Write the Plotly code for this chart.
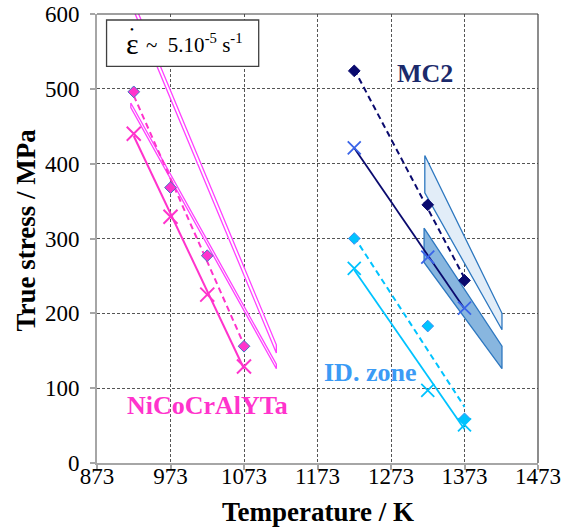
import plotly.graph_objects as go

# ---------------- data ----------------
temp_ni = [923, 973, 1023, 1073]
ni_diamond = [496, 368, 277, 156]
ni_cross = [440, 329, 225, 129]
ni_fit_T = [923, 1073]
ni_fit_diamond = [491, 158]
ni_fit_cross = [437, 126]
ni_bandA_T = [919, 1117]
ni_bandA_upper = [481, 132]
ni_bandA_lower = [475, 126]
ni_bandB_T = [925, 1117]
ni_bandB_upper = [611, 158]
ni_bandB_lower = [600, 147]

temp_hi = [1223, 1323, 1373]
mc2_diamond = [524, 345, 244]
mc2_cross = [421, 275, 207]
id_diamond = [300, 183, 59]
id_cross = [260, 97, 51]
hi_fit_T = [1223, 1373]
mc2_fit_diamond = [526, 247]
mc2_fit_cross = [421, 206]
id_fit_diamond = [302, 75]
id_fit_cross = [258, 45]

light_band_T = [1319, 1424]
light_band_upper = [411, 200]
light_band_lower = [361, 178]
dark_band_T = [1318, 1424]
dark_band_upper = [314, 156]
dark_band_lower = [268, 126]

x_ticks = [873, 973, 1073, 1173, 1273, 1373, 1473]
y_ticks = [0, 100, 200, 300, 400, 500, 600]

FONT = "Liberation Serif, Times New Roman, serif"
MAG = "#FF33CC"
MAG_BAND = "#FF40FF"
NAVY = "#0A0A6E"
CYAN = "#00C3FF"


def band(T, up, lo):
    xs = [T[0], T[1], T[1], T[0], T[0]]
    ys = [up[0], up[1], lo[1], lo[0], up[0]]
    return xs, ys


fig = go.Figure()

# MC2 bands
for T, up, lo, fc in [(light_band_T, light_band_upper, light_band_lower, "#E2EDF8"),
                      (dark_band_T, dark_band_upper, dark_band_lower, "#88B6DF")]:
    xs, ys = band(T, up, lo)
    fig.add_trace(go.Scatter(x=xs, y=ys, mode="lines", fill="toself", fillcolor=fc,
                             line=dict(color="#2E78C0", width=1.3), hoverinfo="skip"))

# NiCoCrAlYTa bands
for T, up, lo in [(ni_bandA_T, ni_bandA_upper, ni_bandA_lower),
                  (ni_bandB_T, ni_bandB_upper, ni_bandB_lower)]:
    xs, ys = band(T, up, lo)
    fig.add_trace(go.Scatter(x=xs, y=ys, mode="lines", fill="toself", fillcolor="white",
                             line=dict(color=MAG_BAND, width=1.3), hoverinfo="skip"))

# fit lines
fig.add_trace(go.Scatter(x=ni_fit_T, y=ni_fit_diamond, mode="lines",
                         line=dict(color=MAG, width=2, dash="6px,4px")))
fig.add_trace(go.Scatter(x=ni_fit_T, y=ni_fit_cross, mode="lines",
                         line=dict(color=MAG, width=2)))
fig.add_trace(go.Scatter(x=hi_fit_T, y=mc2_fit_diamond, mode="lines",
                         line=dict(color=NAVY, width=2, dash="6px,4px")))
fig.add_trace(go.Scatter(x=hi_fit_T, y=mc2_fit_cross, mode="lines",
                         line=dict(color=NAVY, width=1.8)))
fig.add_trace(go.Scatter(x=hi_fit_T, y=id_fit_diamond, mode="lines",
                         line=dict(color=CYAN, width=2, dash="6px,4px")))
fig.add_trace(go.Scatter(x=hi_fit_T, y=id_fit_cross, mode="lines",
                         line=dict(color=CYAN, width=1.8)))

# markers
fig.add_trace(go.Scatter(x=temp_ni, y=ni_diamond, mode="markers",
                         marker=dict(symbol="diamond", size=9, color=MAG,
                                     line=dict(color="#4472C4", width=1))))
fig.add_trace(go.Scatter(x=temp_ni, y=ni_cross, mode="markers",
                         marker=dict(symbol="x-thin", size=14,
                                     line=dict(color=MAG, width=2))))
fig.add_trace(go.Scatter(x=temp_hi, y=mc2_diamond, mode="markers",
                         marker=dict(symbol="diamond", size=9, color=NAVY,
                                     line=dict(color=NAVY, width=1))))
fig.add_trace(go.Scatter(x=temp_hi, y=mc2_cross, mode="markers",
                         marker=dict(symbol="x-thin", size=13,
                                     line=dict(color="#3A64E8", width=1.8))))
fig.add_trace(go.Scatter(x=temp_hi, y=id_diamond, mode="markers",
                         marker=dict(symbol="diamond", size=9, color=CYAN,
                                     line=dict(color="#3D8EF0", width=1))))
fig.add_trace(go.Scatter(x=temp_hi, y=id_cross, mode="markers",
                         marker=dict(symbol="x-thin", size=13,
                                     line=dict(color=CYAN, width=1.8))))

# labels
fig.add_annotation(x=1319, y=520, text="<b>MC2</b>", showarrow=False,
                   font=dict(family=FONT, size=26, color="#1B2A6B"))
fig.add_annotation(x=1244, y=121, text="<b>ID. zone</b>", showarrow=False,
                   font=dict(family=FONT, size=26, color="#3B9BF5"))
fig.add_annotation(x=1023, y=77, text="<b>NiCoCrAlYTa</b>", showarrow=False,
                   font=dict(family=FONT, size=26, color=MAG))

# strain-rate box
fig.add_shape(type="rect", xref="x", yref="y", x0=886, x1=1093, y0=530, y1=592,
              line=dict(color="#404040", width=1.3), fillcolor="white", layer="above")
fig.add_annotation(x=1005, y=560, xref="x", yref="y", showarrow=False,
                   text="~  5.10<sup>-5</sup> s<sup>-1</sup>",
                   font=dict(family=FONT, size=21, color="black"))
fig.add_annotation(x=921, y=560, xref="x", yref="y", showarrow=False,
                   text="\u03b5", font=dict(family=FONT, size=30, color="black"))
fig.add_annotation(x=921, y=560, xref="x", yref="y", showarrow=False, yshift=15,
                   text="\u2022", font=dict(family=FONT, size=11, color="black"))

# frame (top/right)
fig.add_shape(type="line", xref="paper", yref="paper", x0=0, x1=1, y0=1, y1=1,
              line=dict(color="#404040", width=1.2))
fig.add_shape(type="line", xref="paper", yref="paper", x0=1, x1=1, y0=0, y1=1,
              line=dict(color="#404040", width=1.2))

# axis titles
fig.add_annotation(xref="paper", yref="paper", x=0.5, y=0, yshift=-49,
                   xanchor="center", yanchor="middle", showarrow=False,
                   text="<b>Temperature / K</b>",
                   font=dict(family=FONT, size=27, color="black"))
fig.add_annotation(xref="paper", yref="paper", x=0, y=0.5, xshift=-72, yshift=8,
                   xanchor="center", yanchor="middle",
                   showarrow=False, textangle=-90,
                   text="<b>True stress / MPa</b>",
                   font=dict(family=FONT, size=27, color="black"))

axis_common = dict(
    showgrid=True, gridcolor="#555555", gridwidth=1, griddash="3px,2px",
    showline=True, linecolor="#A6A6A6", linewidth=2,
    ticks="outside", ticklen=5, tickcolor="#A6A6A6", tickwidth=1.5,
    zeroline=False, automargin=False, ticklabeloverflow="allow",
    tickfont=dict(family=FONT, size=23, color="black"),
)

fig.update_layout(
    width=572, height=532,
    margin=dict(l=97, r=34, t=14, b=69),
    plot_bgcolor="white", paper_bgcolor="white",
    showlegend=False,
    hovermode=False,
    xaxis=dict(range=[873, 1473], tickmode="array", tickvals=x_ticks,
               ticktext=[str(v) for v in x_ticks], ticklabelstandoff=-14,
               **axis_common),
    yaxis=dict(range=[0, 600], tickmode="array", tickvals=y_ticks,
               ticktext=[str(v) for v in y_ticks],
               ticklabelstandoff=6,
               **axis_common),
)

# remove the default page margin so the figure fills the window exactly
fig.write_html("out.html", config={"displayModeBar": False},
               post_script="document.body.style.margin='0';")
